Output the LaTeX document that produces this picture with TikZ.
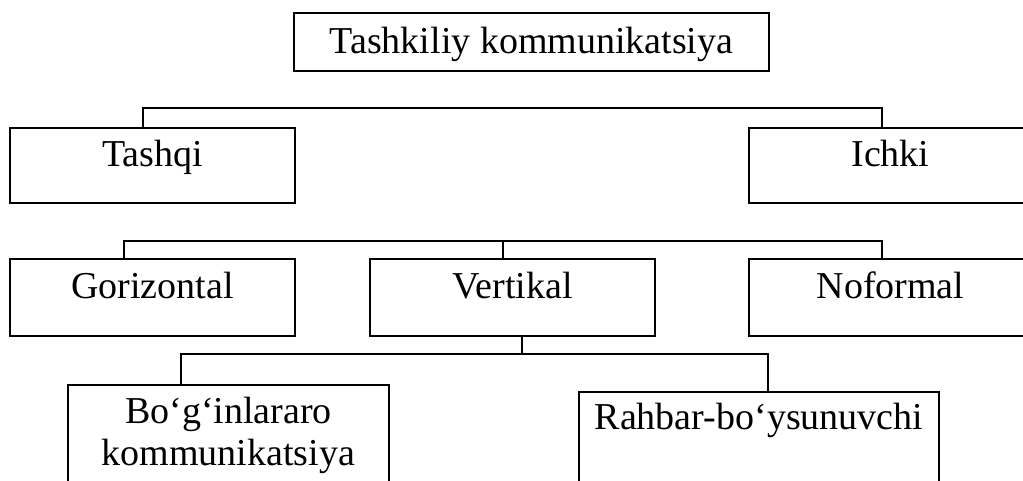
\documentclass[tikz,border=0pt]{standalone}
\usepackage{fontspec}
\setmainfont{Liberation Serif}
\usetikzlibrary{calc}
\tikzset{
  box/.style={draw=black, line width=1.1pt, fill=none, inner sep=0pt},
  lbl/.style={inner sep=0pt, font=\fontsize{38}{42}\selectfont, text=black},
  conn/.style={draw=black, line width=1.1pt}
}
\begin{document}
\begin{tikzpicture}[x=1pt,y=-1pt]
\path[use as bounding box, fill=white] (0,0) rectangle (1023,480);
\clip (0,0) rectangle (1023,480);
% boxes
\node[box, minimum width=475pt, minimum height=58pt] (top) at (531.5,42) {};
\node[box, minimum width=285pt, minimum height=75pt] (tashqi) at (152.5,165.5) {};
\node[box, minimum width=283pt, minimum height=75pt] (ichki) at (890.5,165.5) {};
\node[box, minimum width=285pt, minimum height=77pt] (gor) at (152.5,297.5) {};
\node[box, minimum width=285pt, minimum height=77pt] (vert) at (512.5,297.5) {};
\node[box, minimum width=283pt, minimum height=77pt] (nof) at (890.5,297.5) {};
\node[box, minimum width=321pt, minimum height=130pt] (bog) at (228.5,450) {};
\node[box, minimum width=360pt, minimum height=130pt] (rah) at (759,457) {};
% texts
\node[lbl, anchor=base] (ttop) at (top.north |- 0,53) {Tashkiliy kommunikatsiya};
\node[lbl, anchor=base] (ttashqi) at (tashqi.north |- 0,166) {Tashqi};
\node[lbl, anchor=base] (tichki) at (ichki.north |- 0,166) {Ichki};
\node[lbl, anchor=base] (tgor) at (gor.north |- 0,298) {Gorizontal};
\node[lbl, anchor=base] (tvert) at (vert.north |- 0,298) {Vertikal};
\node[lbl, anchor=base] (tnof) at (nof.north |- 0,298) {Noformal};
\node[lbl, anchor=north, align=center] (tbog) at (bog.north |- 0,397) {Bo‘g‘inlararo\\kommunikatsiya};
\node[lbl, anchor=base] (trah) at (rah.north |- 0,429) {Rahbar-bo‘ysunuvchi};
% connectors
\coordinate (b1l) at (143,108);
\coordinate (b1r) at (882,108);
\draw[conn] (tashqi.north -| b1l) -- (b1l) -- (b1r) -- (ichki.north -| b1r);
\coordinate (b2l) at (124,241);
\coordinate (b2m) at (503,241);
\coordinate (b2r) at (882,241);
\draw[conn] (gor.north -| b2l) -- (b2l) -- (b2r) -- (nof.north -| b2r);
\draw[conn] (b2m) -- (vert.north -| b2m);
\coordinate (b3l) at (181,354);
\coordinate (b3m) at (522,354);
\coordinate (b3r) at (768,354);
\draw[conn] (bog.north -| b3l) -- (b3l) -- (b3r) -- (rah.north -| b3r);
\draw[conn] (vert.south -| b3m) -- (b3m);
\end{tikzpicture}
\end{document}
